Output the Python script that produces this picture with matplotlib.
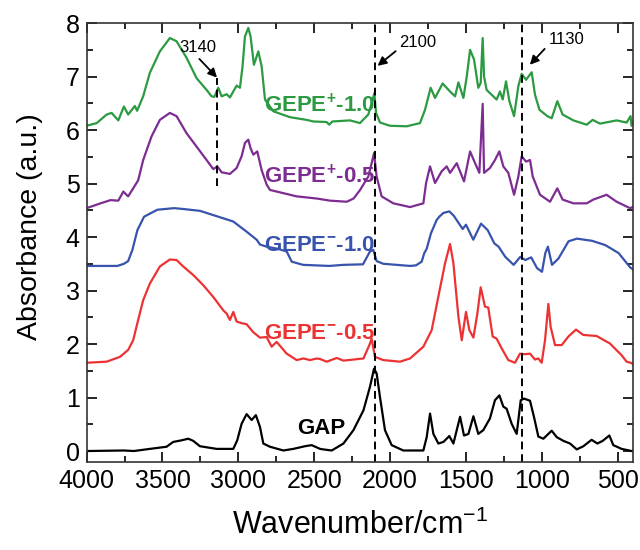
import numpy as np
import matplotlib
matplotlib.use("Agg")
import matplotlib.pyplot as plt
from matplotlib.ticker import MultipleLocator

plt.rcParams['font.family'] = ['Liberation Sans', 'DejaVu Sans']
plt.rcParams['mathtext.fontset'] = 'custom'
plt.rcParams['mathtext.rm'] = 'Liberation Sans'
plt.rcParams['mathtext.bf'] = 'Liberation Sans:bold'

# spectra: (wavenumber, absorbance) pairs
gepe_p10 = [(4000, 6.08), (3933, 6.13), (3868, 6.29), (3835, 6.32), (3791, 6.18), (3754, 6.44), (3726, 6.29),
            (3682, 6.45), (3667, 6.36), (3627, 6.63), (3583, 7.07), (3517, 7.47), (3451, 7.72), (3407, 7.66),
            (3341, 7.35), (3275, 6.97), (3209, 6.75), (3176, 6.63), (3158, 6.62), (3132, 6.79), (3110, 6.63),
            (3077, 6.67), (3055, 6.61), (3011, 6.83), (2989, 6.79), (2972, 7.19), (2956, 7.75), (2934, 7.91),
            (2919, 7.75), (2897, 7.22), (2868, 7.47), (2846, 7.19), (2824, 6.57), (2769, 6.35), (2659, 6.24),
            (2550, 6.19), (2505, 6.16), (2418, 6.15), (2400, 6.10), (2380, 6.16), (2263, 6.18), (2198, 6.13),
            (2143, 6.29), (2114, 6.57), (2103, 6.69), (2092, 6.32), (2066, 6.14), (2000, 6.08), (1890, 6.07),
            (1802, 6.13), (1769, 6.38), (1732, 6.79), (1703, 6.60), (1653, 6.87), (1604, 6.72), (1571, 6.63),
            (1549, 6.89), (1516, 6.60), (1494, 7.00), (1472, 7.50), (1446, 7.32), (1418, 6.79), (1402, 6.88),
            (1389, 7.72), (1380, 7.00), (1363, 6.75), (1330, 6.66), (1297, 6.57), (1275, 6.72), (1257, 6.57),
            (1235, 6.91), (1213, 6.54), (1182, 6.26), (1154, 6.82), (1132, 7.05), (1103, 6.94), (1066, 7.08),
            (1044, 6.66), (1015, 6.38), (963, 6.26), (934, 6.22), (897, 6.54), (862, 6.29), (791, 6.18),
            (703, 6.10), (664, 6.19), (616, 6.12), (506, 6.18), (440, 6.14), (414, 6.26), (407, 6.08), (400, 6.15)]

gepe_p05 = [(4000, 4.54), (3908, 4.63), (3842, 4.69), (3791, 4.68), (3758, 4.85), (3726, 4.76), (3693, 4.91),
            (3660, 5.06), (3627, 5.44), (3572, 5.88), (3517, 6.19), (3451, 6.32), (3407, 6.26), (3341, 5.94),
            (3275, 5.69), (3209, 5.44), (3165, 5.27), (3138, 5.32), (3110, 5.21), (3055, 5.18), (3011, 5.29),
            (2978, 5.51), (2956, 5.76), (2934, 5.82), (2919, 5.66), (2901, 5.54), (2875, 5.60), (2846, 5.25),
            (2813, 4.98), (2791, 4.88), (2703, 4.82), (2615, 4.76), (2483, 4.72), (2395, 4.68), (2285, 4.66),
            (2240, 4.72), (2197, 4.88), (2143, 5.13), (2121, 5.38), (2105, 5.57), (2088, 5.13), (2055, 4.76),
            (1978, 4.63), (1868, 4.56), (1780, 4.63), (1762, 5.01), (1736, 5.32), (1703, 5.01), (1659, 5.23),
            (1626, 5.32), (1604, 5.20), (1560, 5.38), (1512, 5.04), (1472, 5.60), (1439, 5.38), (1411, 5.20),
            (1389, 6.49), (1380, 5.20), (1341, 5.29), (1308, 5.44), (1279, 5.60), (1253, 5.32), (1220, 5.20),
            (1182, 4.79), (1154, 5.13), (1132, 5.51), (1103, 5.41), (1077, 5.44), (1059, 5.13), (1011, 4.79),
            (945, 4.66), (897, 4.91), (862, 4.70), (791, 4.63), (703, 4.63), (660, 4.70), (572, 4.79),
            (506, 4.66), (418, 4.54), (400, 4.56)]

gepe_m10 = [(4000, 3.46), (3797, 3.46), (3754, 3.50), (3726, 3.55), (3698, 3.76), (3665, 4.13), (3621, 4.38),
            (3534, 4.51), (3424, 4.54), (3384, 4.53), (3253, 4.49), (3165, 4.41), (3033, 4.29), (2945, 4.10),
            (2879, 3.95), (2857, 3.86), (2813, 3.82), (2740, 3.78), (2681, 3.73), (2648, 3.54), (2573, 3.48),
            (2400, 3.46), (2307, 3.48), (2178, 3.49), (2132, 3.73), (2110, 3.76), (2088, 3.55), (2044, 3.50),
            (1868, 3.46), (1829, 3.47), (1791, 3.54), (1774, 3.70), (1758, 3.78), (1730, 4.07), (1692, 4.32),
            (1675, 4.38), (1648, 4.45), (1609, 4.48), (1580, 4.40), (1554, 4.29), (1521, 4.15), (1499, 4.23),
            (1451, 3.95), (1400, 4.25), (1356, 4.13), (1312, 3.88), (1284, 3.82), (1240, 3.63), (1185, 3.48),
            (1141, 3.63), (1108, 3.57), (1069, 3.62), (1031, 3.42), (998, 3.35), (976, 3.70), (959, 3.82),
            (932, 3.48), (889, 3.60), (823, 3.92), (768, 3.97), (669, 3.93), (581, 3.85), (493, 3.70),
            (416, 3.43), (400, 3.40)]

gepe_m05 = [(4000, 1.65), (3868, 1.67), (3780, 1.76), (3726, 1.89), (3693, 2.07), (3660, 2.45), (3627, 2.82),
            (3583, 3.13), (3517, 3.45), (3451, 3.58), (3407, 3.57), (3363, 3.45), (3297, 3.29), (3231, 3.10),
            (3165, 2.88), (3099, 2.63), (3077, 2.57), (3055, 2.45), (3033, 2.60), (3011, 2.42), (2978, 2.39),
            (2945, 2.37), (2901, 2.22), (2857, 2.12), (2813, 2.13), (2780, 1.95), (2747, 2.04), (2681, 1.82),
            (2615, 1.70), (2571, 1.73), (2527, 1.70), (2483, 1.73), (2461, 1.72), (2417, 1.67), (2351, 1.74),
            (2307, 1.69), (2175, 1.73), (2136, 1.98), (2121, 2.10), (2099, 1.76), (2044, 1.70), (1934, 1.67),
            (1868, 1.73), (1780, 1.95), (1725, 2.26), (1681, 2.89), (1637, 3.51), (1604, 3.87), (1582, 3.51),
            (1549, 2.51), (1527, 2.07), (1499, 2.60), (1477, 2.26), (1450, 2.12), (1424, 2.57), (1402, 3.06),
            (1374, 2.70), (1352, 2.68), (1323, 2.14), (1297, 2.10), (1264, 1.92), (1220, 1.70), (1176, 1.65),
            (1143, 1.82), (1110, 1.81), (1077, 1.82), (1044, 1.71), (1022, 1.73), (1000, 1.65), (978, 2.07),
            (956, 2.75), (941, 2.32), (912, 1.98), (868, 1.98), (824, 2.14), (774, 2.27), (726, 2.17),
            (638, 2.15), (550, 2.01), (473, 1.79), (440, 1.67), (414, 1.65), (400, 1.63)]

gap = [(4000, 0.00), (3754, 0.01), (3688, 0.00), (3583, 0.04), (3473, 0.08), (3429, 0.17), (3374, 0.20),
       (3330, 0.23), (3297, 0.19), (3253, 0.09), (3143, 0.04), (3033, 0.04), (3007, 0.20), (2978, 0.51),
       (2945, 0.69), (2912, 0.58), (2884, 0.67), (2857, 0.45), (2835, 0.14), (2791, 0.08), (2703, 0.01),
       (2637, 0.04), (2560, 0.09), (2516, 0.11), (2461, 0.04), (2439, 0.03), (2384, 0.01), (2307, 0.14),
       (2241, 0.39), (2175, 0.76), (2132, 1.20), (2105, 1.54), (2088, 1.45), (2066, 1.01), (2033, 0.39),
       (1989, 0.11), (1912, 0.01), (1780, 0.01), (1758, 0.26), (1736, 0.70), (1714, 0.32), (1681, 0.14),
       (1648, 0.17), (1609, 0.28), (1582, 0.14), (1538, 0.64), (1512, 0.29), (1483, 0.32), (1450, 0.65),
       (1418, 0.32), (1385, 0.39), (1341, 0.61), (1308, 0.95), (1279, 1.04), (1253, 0.83), (1231, 0.79),
       (1198, 0.51), (1165, 0.32), (1138, 0.95), (1116, 0.98), (1077, 0.94), (1051, 0.64), (1022, 0.27),
       (989, 0.23), (967, 0.29), (934, 0.38), (901, 0.26), (857, 0.19), (813, 0.14), (769, 0.03),
       (725, 0.09), (671, 0.21), (633, 0.14), (598, 0.19), (554, 0.29), (528, 0.11), (473, 0.04),
       (407, 0.00), (400, 0.00)]

series_names = [r'GEPE$^{\mathbf{+}}$-1.0', r'GEPE$^{\mathbf{+}}$-0.5',
                r'GEPE$^{\mathbf{-}}$-1.0', r'GEPE$^{\mathbf{-}}$-0.5', 'GAP']
series_data = [gepe_p10, gepe_p05, gepe_m10, gepe_m05, gap]
series_colors = ['#2b9a41', '#7d2c92', '#3853ad', '#ec3232', '#000000']
label_pos = [(2830, 6.46), (2830, 5.13), (2830, 3.85), (2830, 2.20), (2610, 0.43)]

fig = plt.figure(figsize=(6.4, 5.5), dpi=100)
ax = fig.add_axes([0.1353, 0.1605, 0.8533, 0.7976])

for name, data, color, (lx, ly) in zip(series_names, series_data, series_colors, label_pos):
    arr = np.array(data)
    ax.plot(arr[:, 0], arr[:, 1], color=color, lw=1.6)
    ax.text(lx, ly, name, color=color, fontsize=16, fontweight='bold', ha='left', va='center')

# dashed guide lines
ax.plot([3140, 3140], [4.95, 6.98], color='black', lw=1.4, ls=(0, (4, 2.5)))
ax.axvline(2100, color='black', lw=1.4, ls=(0, (4, 2.5)))
ax.axvline(1130, color='black', lw=1.4, ls=(0, (4, 2.5)))

arrow = dict(arrowstyle='-|>', color='black', lw=1.3, mutation_scale=13, shrinkA=1, shrinkB=0)
ax.annotate('3140', xy=(3140, 6.98), xytext=(3268, 7.54), fontsize=12, ha='center', va='center',
            arrowprops=dict(arrow, relpos=(0.45, 0.0)))
ax.annotate('2100', xy=(2082, 7.2), xytext=(1815, 7.63), fontsize=12, ha='center', va='center',
            arrowprops=dict(arrow, relpos=(0.0, 0.15)))
ax.annotate('1130', xy=(1078, 7.22), xytext=(838, 7.69), fontsize=12, ha='center', va='center',
            arrowprops=dict(arrow, relpos=(0.0, 0.15)))

ax.set_xlim(4000, 400)
ax.set_ylim(-0.2, 8.0)
ax.xaxis.set_major_locator(MultipleLocator(500))
ax.xaxis.set_minor_locator(MultipleLocator(250))
ax.yaxis.set_major_locator(MultipleLocator(1))
ax.yaxis.set_minor_locator(MultipleLocator(0.5))
ax.tick_params(which='both', direction='in', top=True, right=True, width=1.2, labelsize=18, pad=5)
ax.tick_params(which='major', length=7)
ax.tick_params(which='minor', length=4)
for sp in ax.spines.values():
    sp.set_linewidth(1.2)
    sp.set_color('#333333')

ax.set_xlabel(r'Wavenumber/cm$^{\mathrm{-1}}$', fontsize=22, labelpad=12)
ax.set_ylabel('Absorbance (a.u.)', fontsize=20.5)
ax.yaxis.set_label_coords(-0.08, 0.537)

fig.savefig('out.png', dpi=100)
